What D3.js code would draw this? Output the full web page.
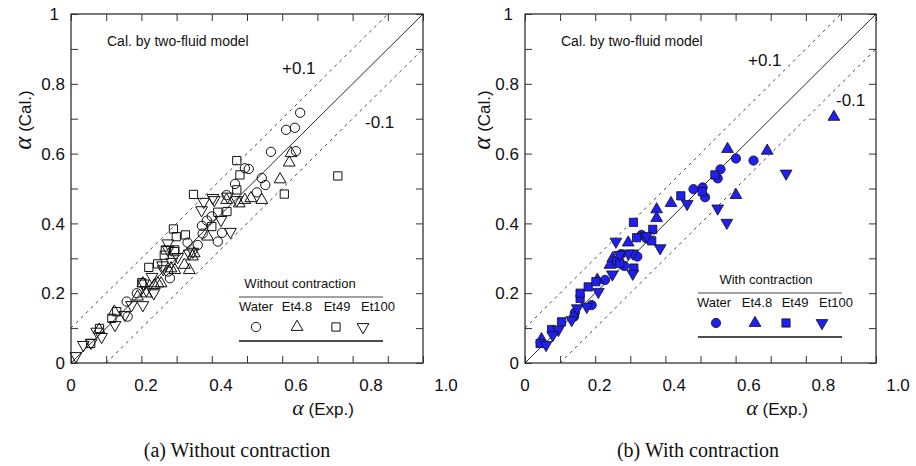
<!DOCTYPE html>
<html>
<head>
<meta charset="utf-8">
<script src="https://cdn.jsdelivr.net/npm/d3@7"></script>
<style>
  body { margin: 0; background: #fff; }
  text { font-family: "Liberation Sans", Arial, sans-serif; fill: #111; }
  .serif { font-family: "Liberation Serif", "Times New Roman", serif; }
</style>
</head>
<body>
<div id="chart"></div>
<script>
// ---- data (alpha exp, alpha cal) ----
const seriesNames = ["Water", "Et4.8", "Et49", "Et100"];
const xTickLabels = ["0", "0.2", "0.4", "0.6", "0.8", "1.0"];
const yTickLabels = ["0", "0.2", "0.4", "0.6", "0.8", "1"];

// (a) without contraction
const waterA = [[0.651,0.717],[0.611,0.668],[0.636,0.674],[0.568,0.605],[0.639,0.607],[0.505,0.556],[0.494,0.558],
  [0.542,0.530],[0.552,0.510],[0.466,0.513],[0.528,0.489],[0.442,0.481],[0.386,0.408],[0.372,0.393],[0.374,0.371],
  [0.417,0.348],[0.429,0.373],[0.360,0.338],[0.331,0.345],[0.281,0.243],[0.276,0.262],[0.187,0.200],[0.158,0.176],
  [0.161,0.133],[0.400,0.420]];
const et48A = [[0.625,0.601],[0.620,0.574],[0.594,0.526],[0.542,0.467],[0.511,0.472],[0.494,0.467],[0.478,0.457],
  [0.442,0.467],[0.388,0.362],[0.350,0.314],[0.336,0.266],[0.322,0.281],[0.284,0.271],[0.295,0.266],[0.256,0.228],
  [0.247,0.228],[0.237,0.223],[0.214,0.199],[0.204,0.228],[0.189,0.190],[0.123,0.147],[0.080,0.095],[0.345,0.305]];
const et49A = [[0.758,0.536],[0.471,0.580],[0.480,0.539],[0.471,0.496],[0.606,0.484],[0.348,0.483],[0.417,0.432],
  [0.443,0.434],[0.400,0.391],[0.291,0.384],[0.299,0.362],[0.325,0.367],[0.268,0.324],[0.294,0.319],[0.221,0.274],
  [0.246,0.284],[0.265,0.309],[0.201,0.230],[0.130,0.147],[0.116,0.128],[0.081,0.099],[0.056,0.056],[0.295,0.324]];
const et100A = [[0.377,0.462],[0.371,0.438],[0.407,0.467],[0.445,0.477],[0.471,0.467],[0.453,0.376],[0.426,0.410],
  [0.275,0.343],[0.336,0.314],[0.346,0.319],[0.303,0.304],[0.260,0.280],[0.276,0.324],[0.286,0.290],[0.262,0.269],
  [0.230,0.247],[0.235,0.200],[0.206,0.228],[0.214,0.209],[0.204,0.166],[0.172,0.166],[0.153,0.138],[0.125,0.109],
  [0.087,0.075],[0.073,0.090],[0.035,0.052],[0.014,0.020],[0.057,0.058],[0.403,0.473]];

// (b) with contraction
const waterB = [[0.601,0.586],[0.651,0.580],[0.557,0.555],[0.549,0.529],[0.480,0.498],[0.506,0.503],[0.513,0.475],
  [0.332,0.367],[0.346,0.357],[0.274,0.312],[0.283,0.278],[0.320,0.305],[0.228,0.238],[0.190,0.166],[0.142,0.144],
  [0.140,0.133]];
const et48B = [[0.880,0.705],[0.690,0.608],[0.577,0.613],[0.601,0.481],[0.416,0.458],[0.375,0.440],[0.375,0.415],
  [0.294,0.345],[0.242,0.281],[0.250,0.300],[0.206,0.238],[0.047,0.068]];
const et49B = [[0.541,0.539],[0.505,0.491],[0.444,0.479],[0.309,0.403],[0.364,0.383],[0.318,0.359],[0.361,0.350],
  [0.261,0.292],[0.270,0.285],[0.310,0.272],[0.180,0.218],[0.202,0.233],[0.157,0.185],[0.157,0.200],[0.104,0.118],
  [0.076,0.096],[0.043,0.056]];
const et100B = [[0.744,0.543],[0.549,0.443],[0.575,0.402],[0.462,0.456],[0.347,0.364],[0.385,0.329],[0.259,0.348],
  [0.307,0.314],[0.294,0.314],[0.307,0.256],[0.249,0.254],[0.209,0.204],[0.176,0.161],[0.149,0.157],[0.133,0.123],
  [0.095,0.095],[0.079,0.080],[0.060,0.052],[0.270,0.310]];

const width = 916, height = 466;
const svg = d3.select("#chart").append("svg")
    .attr("width", width)
    .attr("height", height);

const blue = "#1f1ff2";

function markerPath(i) {
    if (i === 0) return d3.symbol(d3.symbolCircle, 68)();
    if (i === 2) return d3.symbol(d3.symbolSquare, 68)();
    return d3.symbol(d3.symbolTriangle, 60)();
}

function drawMarker(g, i, x, y, filled) {
    g.append("path")
        .attr("d", markerPath(i))
        .attr("transform", `translate(${x},${y})` + (i === 3 ? " rotate(180)" : ""))
        .attr("fill", filled ? blue : "none")
        .attr("stroke", "#111")
        .attr("stroke-width", filled ? 0.8 : 1);
}

function drawPanel(p) {
    const g = svg.append("g").attr("transform", `translate(${p.left},${p.top})`);
    const x = d3.scaleLinear().domain([0, 1]).range([0, p.w]);
    const y = d3.scaleLinear().domain([0, 1]).range([p.h, 0]);
    // the printed x labels are spaced a little wider than the ticks
    const xl = d3.scaleLinear().domain([0, 1]).range([0, p.labelSpan]);
    const ticks = d3.range(0, 1.0001, 0.1);

    // inward ticks on all four sides
    const axes = [
        [d3.axisBottom(x), `translate(0,${p.h})`],
        [d3.axisTop(x), "translate(0,0)"],
        [d3.axisLeft(y), "translate(0,0)"],
        [d3.axisRight(y), `translate(${p.w},0)`]
    ];
    axes.forEach(([ax, tr]) => {
        const a = g.append("g").attr("transform", tr)
            .call(ax.tickValues(ticks).tickSize(-7).tickFormat(""));
        a.select(".domain").remove();
        a.selectAll("line").attr("stroke", "#333").attr("stroke-width", 1);
    });

    g.append("rect")
        .attr("width", p.w).attr("height", p.h)
        .attr("fill", "none").attr("stroke", "#333").attr("stroke-width", 1.3);

    // tick labels
    g.selectAll(".xl").data(xTickLabels).enter().append("text")
        .attr("x", (d, i) => xl(i * 0.2))
        .attr("y", p.h + 28)
        .attr("text-anchor", "middle")
        .style("font-size", "17px")
        .text(d => d);
    g.selectAll(".yl").data(yTickLabels).enter().append("text")
        .attr("x", (d, i) => i === 5 ? -12 : -6)
        .attr("y", (d, i) => y(i * 0.2))
        .attr("dy", "0.36em")
        .attr("text-anchor", "end")
        .style("font-size", "17px")
        .text(d => d);

    // reference lines
    const line = d3.line().x(d => x(d[0])).y(d => y(d[1]));
    g.append("path").attr("d", line([[0, 0], [1, 1]]))
        .attr("stroke", "#111").attr("stroke-width", 0.9).attr("fill", "none");
    [[[0, 0.1], [0.9, 1]], [[0.1, 0], [1, 0.9]]].forEach(seg => {
        g.append("path").attr("d", line(seg))
            .attr("stroke", "#333").attr("stroke-width", 0.9)
            .attr("stroke-dasharray", "3,4").attr("fill", "none");
    });

    // data
    p.series.forEach((s, i) => {
        s.forEach(d => drawMarker(g, i, x(d[0]), y(d[1]), p.filled));
    });

    // annotations
    g.append("text").attr("x", 36).attr("y", 32).style("font-size", "14px")
        .text("Cal. by two-fluid model");
    g.append("text").attr("x", p.plusPos[0]).attr("y", p.plusPos[1]).style("font-size", "17px").text("+0.1");
    g.append("text").attr("x", p.minusPos[0]).attr("y", p.minusPos[1]).style("font-size", "17px").text("-0.1");

    // legend
    const lg = g.append("g").attr("transform", `translate(${p.legend[0]},${p.legend[1]})`);
    lg.append("text").attr("x", p.legendTitleX).attr("y", 0).attr("text-anchor", "middle")
        .style("font-size", "13px").text(p.legendTitle);
    lg.append("line").attr("x1", 0).attr("x2", 144).attr("y1", 9).attr("y2", 9)
        .attr("stroke", "#444").attr("stroke-width", 1);
    lg.append("line").attr("x1", 0).attr("x2", 144).attr("y1", 53).attr("y2", 53)
        .attr("stroke", "#111").attr("stroke-width", 1.4);
    seriesNames.forEach((n, i) => {
        lg.append("text").attr("x", p.legendText[i]).attr("y", 23).attr("text-anchor", "middle")
            .style("font-size", "13px").text(n);
        drawMarker(lg, i, p.legendSym[i], 39, p.filled);
    });

    // axis titles
    const yt = g.append("text")
        .attr("transform", `translate(${p.yTitleX},${120 - p.top}) rotate(-90)`)
        .attr("text-anchor", "middle");
    yt.append("tspan").attr("class", "serif").style("font-style", "italic").style("font-size", "25px").text("α");
    yt.append("tspan").style("font-size", "17px").text(" (Cal.)");

    const xt = g.append("text")
        .attr("x", p.xTitleX).attr("y", 415 - p.top)
        .attr("text-anchor", "middle");
    xt.append("tspan").attr("class", "serif").style("font-style", "italic").style("font-size", "22px").text("α");
    xt.append("tspan").style("font-size", "17px").text(" (Exp.)");

    svg.append("text").attr("class", "serif")
        .attr("x", p.captionX).attr("y", 457)
        .attr("text-anchor", "middle")
        .style("font-size", "20px")
        .text(p.caption);
}

drawPanel({
    left: 71, top: 14, w: 352, h: 349, labelSpan: 375,
    series: [waterA, et48A, et49A, et100A], filled: false,
    plusPos: [211, 60], minusPos: [294, 114],
    legend: [168, 274], legendTitle: "Without contraction", legendTitleX: 61,
    legendText: [17, 58, 98, 139], legendSym: [17, 58, 97, 124],
    yTitleX: -40, xTitleX: 252,
    captionX: 237, caption: "(a) Without contraction"
});

drawPanel({
    left: 525, top: 14, w: 351, h: 349, labelSpan: 373,
    series: [waterB, et48B, et49B, et100B], filled: true,
    plusPos: [223, 52], minusPos: [311, 92],
    legend: [173, 270], legendTitle: "With contraction", legendTitleX: 68,
    legendText: [16, 59, 97, 138], legendSym: [18, 57, 88, 124],
    yTitleX: -35, xTitleX: 252,
    captionX: 698, caption: "(b) With contraction"
});
</script>
</body>
</html>
